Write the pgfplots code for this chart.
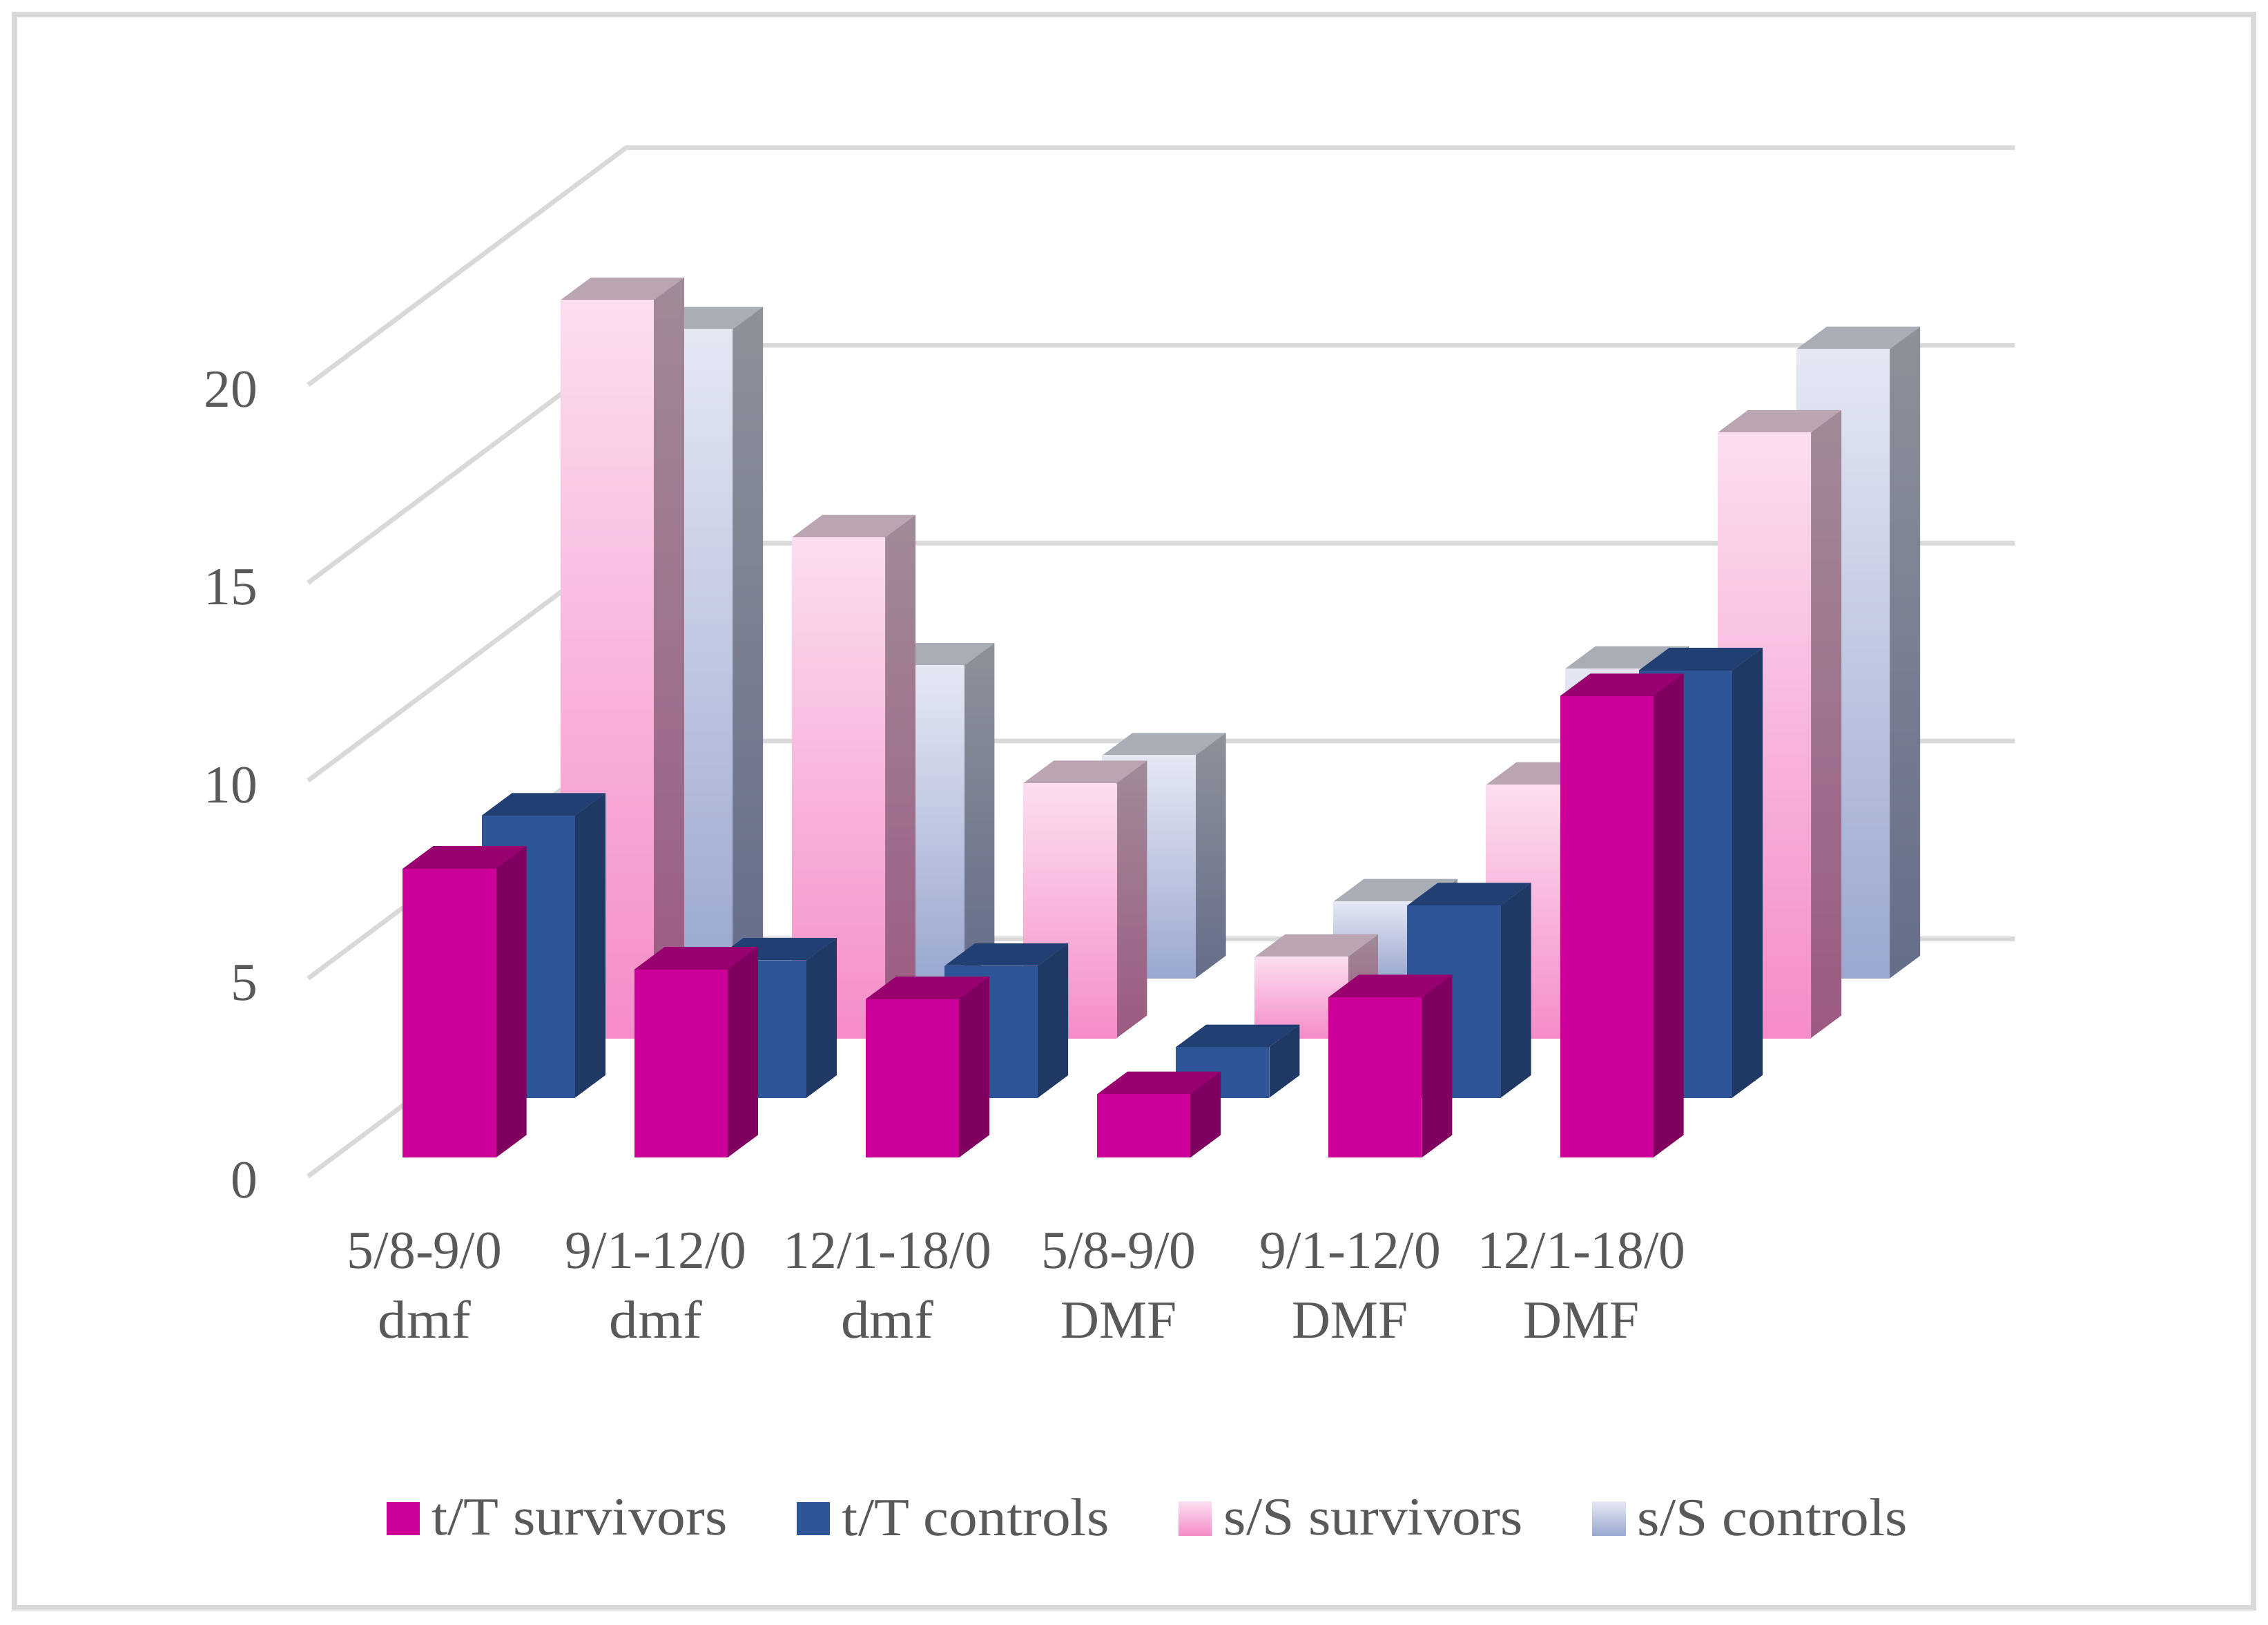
\documentclass[border=0pt]{standalone}
\usepackage{fontspec}
\setmainfont{Liberation Serif}
\newfontfamily\legfont[FakeStretch=1.075]{Liberation Serif}
\usepackage{pgfplots}
\usepackage{pgfplotstable}
\pgfplotsset{compat=1.18}

\definecolor{gridc}{HTML}{D9D9D9}
\definecolor{textc}{HTML}{595959}
\definecolor{magF}{HTML}{CC0099}
\definecolor{magS}{HTML}{80005F}
\definecolor{magT}{HTML}{99006F}
\definecolor{bluF}{HTML}{2E5597}
\definecolor{bluS}{HTML}{1F3864}
\definecolor{bluT}{HTML}{223F74}
\definecolor{pnkA}{HTML}{FBDEEF}
\definecolor{pnkB}{HTML}{F58CC8}
\definecolor{pnkSA}{HTML}{A08A98}
\definecolor{pnkSB}{HTML}{9C5A82}
\definecolor{pnkT}{HTML}{BCA5B3}
\definecolor{lblA}{HTML}{E5E8F3}
\definecolor{lblB}{HTML}{9AA8D0}
\definecolor{lblSA}{HTML}{8E9199}
\definecolor{lblSB}{HTML}{656E8A}
\definecolor{lblT}{HTML}{A9AEB6}

% one table per series, rows in category order
\pgfplotstableread{
v
7.3
4.75
4.0
1.6
4.05
11.66
}\tsurv
\pgfplotstableread{
v
7.13
3.47
3.33
1.28
4.86
10.8
}\tctrl
\pgfplotstableread{
v
18.65
12.65
6.44
2.05
6.4
15.3
}\ssurv
\pgfplotstableread{
v
16.4
7.9
5.63
1.94
7.82
15.9
}\sctrl

% #1 table, #2 depth row, #3 front, #4 side, #5 top
\newcommand{\drawbars}[5]{%
  \pgfplotsinvokeforeach{0,...,5}{%
    \pgfplotstablegetelem{##1}{v}\of{#1}%
    \pgfmathsetmacro\xa{278.5+160*##1+54.5*#2}%
    \pgfmathsetmacro\xb{\xa+64.5}%
    \pgfmathsetmacro\xc{\xb+21}%
    \pgfmathsetmacro\xd{\xa+21}%
    \pgfmathsetmacro\ya{0.475+1.51*#2}%
    \pgfmathsetmacro\yb{\ya+\pgfplotsretval}%
    \pgfmathsetmacro\yc{\yb+0.57}%
    \pgfmathsetmacro\yd{\ya+0.57}%
    \addplot[forget plot,draw=none,#5] coordinates {(\xa,\yb) (\xb,\yb) (\xc,\yc) (\xd,\yc)} -- cycle;
    \addplot[forget plot,draw=none,#4] coordinates {(\xb,\ya) (\xc,\yd) (\xc,\yc) (\xb,\yb)} -- cycle;
    \addplot[forget plot,draw=none,#3] coordinates {(\xa,\ya) (\xb,\ya) (\xb,\yb) (\xa,\yb)} -- cycle;
  }%
}

\newcommand{\gridline}[1]{%
  \pgfmathsetmacro\yg{#1+6}%
  \addplot[forget plot,gridc,line width=1.6pt] coordinates {(213,#1) (433,\yg) (1393,\yg)};
}

% legend swatch with the gap to its text
\newcommand{\swatch}[1]{\addlegendimage{legend image code/.code={%
  \path[draw=none,#1] (0pt,-5.5pt) rectangle (11.5pt,6pt);
  \path (13.5pt,0pt);}}}

\begin{document}
\begin{tikzpicture}
\useasboundingbox (0,0) rectangle (784pt,561.5pt);
\begin{axis}[
    at={(106.5pt,155pt)}, anchor=south west,
    scale only axis, width=590pt, height=355.5pt,
    xmin=213, xmax=1393, ymin=0, ymax=26,
    clip=false,
    axis line style={draw=none},
    major tick length=0pt,
    ytick={0,5,10,15,20},
    xtick={293.5,453.5,613.5,773.5,933.5,1093.5},
    xticklabels={{5/8-9/0\\\legfont dmf},{9/1-12/0\\\legfont dmf},{12/1-18/0\\\legfont dmf},{5/8-9/0\\DMF},{9/1-12/0\\DMF},{12/1-18/0\\DMF}},
    /pgf/number format/assume math mode=true,
    ticklabel style={text=textc,font=\fontsize{18.5}{24}\selectfont},
    xticklabel style={align=center,yshift=-16pt},
    yticklabel style={xshift=-14pt,yshift=-1.5pt},
    legend columns=4,
    legend style={at={(axis cs:795,-8.67)},anchor=center,draw=none,fill=none,
      text=textc,font=\legfont\fontsize{18.5}{23.5}\selectfont,
      /tikz/every even column/.style={column sep=22pt}},
    legend cell align=left,
]
% outer frame
\addplot[forget plot,gridc,line width=1.9pt] coordinates {(10,29.36) (1558,29.36) (1558,-10.9) (10,-10.9)} -- cycle;

\swatch{fill=magF}
\addlegendentry{t/T survivors}
\swatch{fill=bluF}
\addlegendentry{t/T controls}
\swatch{top color=pnkA,bottom color=pnkB}
\addlegendentry{s/S survivors}
\swatch{top color=lblA,bottom color=lblB}
\addlegendentry{s/S controls}

\gridline{0}
\gridline{5}
\gridline{10}
\gridline{15}
\gridline{20}

\drawbars{\sctrl}{3}{top color=lblA,bottom color=lblB}{top color=lblSA,bottom color=lblSB}{fill=lblT}
\drawbars{\ssurv}{2}{top color=pnkA,bottom color=pnkB}{top color=pnkSA,bottom color=pnkSB}{fill=pnkT}
\drawbars{\tctrl}{1}{fill=bluF}{fill=bluS}{fill=bluT}
\drawbars{\tsurv}{0}{fill=magF}{fill=magS}{fill=magT}
\end{axis}
\end{tikzpicture}
\end{document}
